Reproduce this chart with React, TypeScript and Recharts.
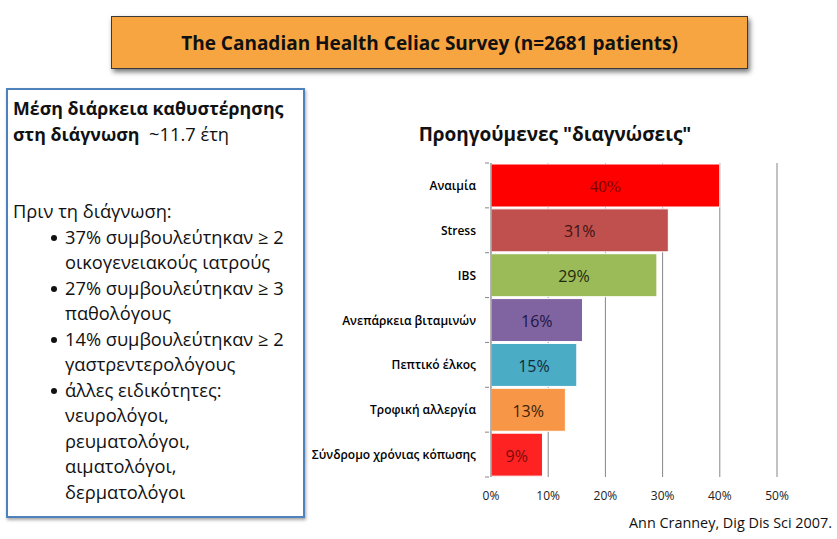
import React from "react";
import { BarChart, Bar, XAxis, YAxis, CartesianGrid, Cell, LabelList } from "recharts";

const categories = [
  "Αναιμία",
  "Stress",
  "IBS",
  "Ανεπάρκεια βιταμινών",
  "Πεπτικό έλκος",
  "Τροφική αλλεργία",
  "Σύνδρομο χρόνιας κόπωσης",
];
const values = [40, 31, 29, 16, 15, 13, 9];
const barColors = ["#FF0000", "#C0504D", "#9BBB59", "#8064A2", "#4BACC6", "#F79646", "#FF2222"];
const labelColors = ["#7a0000", "#3d1414", "#1f2a0c", "#221640", "#0f2a38", "#3a2208", "#7a0a0a"];
const xTicks = [0, 10, 20, 30, 40, 50];

const bulletItems = [
  ["37% συμβουλεύτηκαν ≥ 2", "οικογενειακούς ιατρούς"],
  ["27% συμβουλεύτηκαν ≥ 3", "παθολόγους"],
  ["14% συμβουλεύτηκαν ≥ 2", "γαστρεντερολόγους"],
  ["άλλες ειδικότητες:", "νευρολόγοι,", "ρευματολόγοι,", "αιματολόγοι,", "δερματολόγοι"],
];

const data = categories.map((c, i) => ({ name: c, value: values[i], color: barColors[i], lc: labelColors[i] }));

const FONT = "'Open Sans', 'Noto Sans', sans-serif";

const CatTick = (props: any) => {
  const { x, y, payload, index } = props;
  const half = 314 / 7 / 2;
  return (
    <g>
      <text x={x - 9} y={y} textAnchor="end" dominantBaseline="central" fontSize={12} fontWeight={600} fontFamily={FONT} fill="#000">
        {payload.value}
      </text>
      <line x1={x} x2={x + 4} y1={y - half} y2={y - half} stroke="#868686" />
      {index === categories.length - 1 ? (
        <line x1={x} x2={x + 4} y1={y + half} y2={y + half} stroke="#868686" />
      ) : null}
    </g>
  );
};

const CenterLabel = (props: any) => {
  const { x, y, width, height, value, index } = props;
  return (
    <text
      x={x + width / 2}
      y={y + height / 2 + 1}
      textAnchor="middle"
      dominantBaseline="central"
      fontSize={index === 0 ? 17 : 16}
      fontFamily={index === 0 ? "'Liberation Serif', serif" : FONT}
      fill={labelColors[index]}
    >
      {value}%
    </text>
  );
};

export default function App() {
  return (
    <div
      style={{
        position: "absolute",
        left: 0,
        top: 0,
        width: 837,
        height: 539,
        background: "#fff",
        fontFamily: FONT,
        overflow: "hidden",
      }}
    >
      {/* Banner */}
      <div
        style={{
          position: "absolute",
          left: 111,
          top: 16,
          width: 637,
          height: 53,
          background: "#F7A541",
          border: "1px solid #3a3a3a",
          boxShadow: "2px 3px 5px rgba(0,0,0,0.55)",
          display: "flex",
          alignItems: "center",
          justifyContent: "center",
          fontWeight: 700,
          fontSize: 19,
          color: "#111",
          boxSizing: "border-box",
        }}
      >
        The Canadian Health Celiac Survey (n=2681 patients)
      </div>

      {/* Left box */}
      <div
        style={{
          position: "absolute",
          left: 6,
          top: 88,
          width: 299,
          height: 430,
          border: "2.5px solid #4F81BD",
          boxShadow: "1px 2px 3px rgba(0,0,0,0.35)",
          boxSizing: "border-box",
          fontSize: 18.3,
          color: "#111",
        }}
      >
        <div style={{ position: "absolute", left: 5, top: 6, lineHeight: "25px", whiteSpace: "nowrap" }}>
          <div style={{ fontWeight: 700, fontSize: 17.8 }}>Μέση διάρκεια καθυστέρησης</div>
          <div>
            <span style={{ fontWeight: 700, fontSize: 17.8 }}>στη διάγνωση</span>
            <span>&nbsp;&nbsp;~11.7 έτη</span>
          </div>
        </div>
        <div style={{ position: "absolute", left: 5, top: 108, lineHeight: "25.5px", whiteSpace: "nowrap" }}>
          <div>Πριν τη διάγνωση:</div>
          {bulletItems.map((lines, i) => (
            <div key={i} style={{ position: "relative", paddingLeft: 52 }}>
              <div
                style={{
                  position: "absolute",
                  left: 38,
                  top: 11,
                  width: 6,
                  height: 6,
                  borderRadius: 3,
                  background: "#111",
                }}
              />
              {lines.map((l, j) => (
                <div key={j}>{l}</div>
              ))}
            </div>
          ))}
        </div>
      </div>

      {/* Chart title */}
      <div
        style={{
          position: "absolute",
          left: 360,
          top: 121,
          width: 390,
          textAlign: "center",
          fontWeight: 700,
          fontSize: 19,
          color: "#111",
        }}
      >
        Προηγούμενες "διαγνώσεις"
      </div>

      {/* Chart */}
      <div style={{ position: "absolute", left: 310, top: 110 }}>
        <BarChart
          width={520}
          height={410}
          data={data}
          layout="vertical"
          margin={{ top: 53, right: 53, bottom: 13, left: 0 }}
          barCategoryGap={1}
        >
          <CartesianGrid horizontal={false} vertical={true} stroke="#868686" />
          <XAxis
            type="number"
            domain={[0, 50]}
            ticks={xTicks}
            tickFormatter={(v: number) => `${v}%`}
            axisLine={false}
            tickLine={false}
            height={30}
            tickMargin={8}
            tick={{ fontSize: 12, fill: "#222", fontFamily: FONT }}
          />
          <YAxis
            type="category"
            dataKey="name"
            width={181}
            axisLine={{ stroke: "#868686" }}
            tickLine={false}
            tick={<CatTick />}
            tickMargin={0}
          />
          <Bar dataKey="value" isAnimationActive={false} stroke="#ffffff" strokeWidth={1}>
            {data.map((d, i) => (
              <Cell key={i} fill={d.color} />
            ))}
            <LabelList dataKey="value" content={<CenterLabel />} />
          </Bar>
        </BarChart>
      </div>

      {/* Source */}
      <div
        style={{
          position: "absolute",
          right: 5,
          top: 513,
          fontSize: 14.4,
          color: "#111",
          whiteSpace: "nowrap",
        }}
      >
        Ann Cranney, Dig Dis Sci 2007.
      </div>
    </div>
  );
}
